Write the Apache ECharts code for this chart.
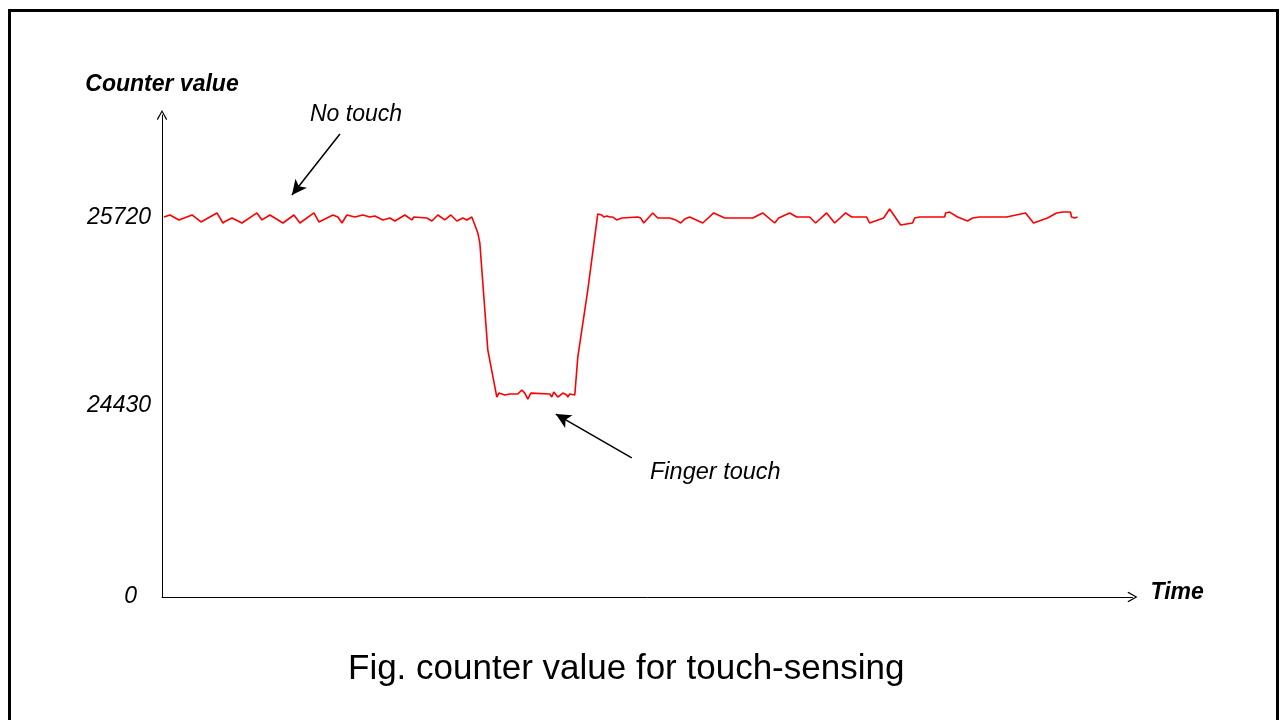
<!DOCTYPE html>
<html>
<head>
<meta charset="utf-8">
<script src="https://cdn.jsdelivr.net/npm/echarts@6/dist/echarts.min.js"></script>
<style>
html,body{margin:0;padding:0;background:#fff;}
#chart{width:1281px;height:720px;}
</style>
</head>
<body>
<div id="chart"></div>
<script>
// Time samples (arbitrary units)
var time = [
  2,8,17,30,39,55,61,64,70,80,
  95,100,108,121,132,138,152,157,171,176,
  180,185,193,201,208,213,221,228,233,243,
  250,252,265,270,276,283,289,295,301,305,
  310,312,316,318,326,335,337,343,348,356,
  360,363,366,369,388,390,392,396,401,405,
  406,408,413,416,426,436,440,442,445,448,
  451,455,460,476,479,482,491,496,508,514,
  519,523,528,541,552,563,591,601,613,617,
  628,635,648,654,665,673,684,690,705,708,
  722,728,739,751,753,758,783,784,788,796,
  806,811,818,825,845,864,872,886,895,901,
  909,910,913,916
];
// Counter values
var counter = [
  25713,25727,25693,25727,25679,25741,25672,25686,25706,25672,
  25741,25693,25727,25672,25727,25672,25741,25679,25727,25713,
  25672,25727,25713,25727,25713,25720,25693,25706,25686,25727,
  25693,25713,25706,25686,25727,25693,25727,25686,25706,25693,
  25713,25706,25603,25535,24800,24478,24505,24492,24499,24499,
  24526,24505,24464,24505,24499,24478,24512,24478,24505,24492,
  24478,24499,24492,24752,25212,25734,25727,25713,25720,25713,
  25713,25693,25706,25713,25706,25672,25741,25706,25706,25693,
  25672,25699,25713,25672,25741,25706,25706,25741,25672,25706,
  25741,25713,25713,25672,25741,25672,25741,25713,25713,25672,
  25706,25768,25658,25672,25706,25713,25713,25741,25747,25713,
  25686,25706,25713,25713,25713,25741,25672,25706,25741,25747,
  25747,25713,25706,25713
];
// Axis ticks shown (bottom of the broken axis is labelled "0")
var yBottom = 23106;
var yTop = 26413;
var yTicks = [yBottom, 24430, 25720];
var yTickLabels = ['0', '24430', '25720'];
var xMax = 971;

// Annotation arrows: start [t, v], end [t, v]
var noTouchArrow = [[178, 26283], [130, 25864]];
var fingerArrow = [[470, 24060], [394, 24361]];

var FONT = "'Liberation Sans', Arial, sans-serif";
var chevron = 'path://M0,88 L50,0 L100,88 L90,96 L50,22 L10,96 Z';

var seriesData = time.map(function (t, i) { return [t, counter[i]]; });

var chart = echarts.init(document.getElementById('chart'), null, {renderer: 'canvas'});
chart.setOption({
  animation: false,
  backgroundColor: '#ffffff',
  grid: {left: 162, top: 115, width: 970.5, height: 482, containLabel: false},
  xAxis: {
    type: 'value', min: 0, max: xMax,
    name: '{t|Time}', nameLocation: 'end', nameGap: 18,
    nameTextStyle: {
      fontFamily: FONT, fontSize: 23, fontStyle: 'italic', fontWeight: 'bold', color: '#000',
      rich: {t: {fontFamily: FONT, fontSize: 23, fontStyle: 'italic', fontWeight: 'bold', color: '#000', padding: [0, 0, 8, 0]}}
    },
    axisLine: {show: true, lineStyle: {color: '#000', width: 1}, symbol: ['none', chevron], symbolSize: [11, 10]},
    axisTick: {show: false}, axisLabel: {show: false}, splitLine: {show: false}
  },
  yAxis: {
    type: 'value', min: yBottom, max: yTop,
    name: 'Counter value', nameLocation: 'end', nameGap: 19,
    nameTextStyle: {fontFamily: FONT, fontSize: 23, fontStyle: 'italic', fontWeight: 'bold', color: '#000'},
    axisLine: {show: true, lineStyle: {color: '#000', width: 1}, symbol: ['none', chevron], symbolSize: [11, 10]},
    axisTick: {show: false},
    splitLine: {show: false},
    axisLabel: {
      show: true, customValues: yTicks, margin: 11,
      fontFamily: FONT, fontSize: 23, fontStyle: 'italic', color: '#000',
      formatter: function (v) {
        var i = yTicks.indexOf(v);
        var s = i >= 0 ? yTickLabels[i] : '';
        return v === yBottom ? '{z|' + s + '}' : '{n|' + s + '}';
      },
      rich: {
        z: {fontFamily: FONT, fontSize: 23, fontStyle: 'italic', color: '#000', padding: [0, 14, 0, 0]},
        n: {fontFamily: FONT, fontSize: 23, fontStyle: 'italic', color: '#000', padding: [4, 0, 0, 0]}
      }
    }
  },
  series: [{
    type: 'line',
    data: seriesData,
    showSymbol: false,
    symbol: 'none',
    lineStyle: {color: '#ff0000', width: 1.6},
    itemStyle: {color: '#ff0000'},
    silent: true,
    markLine: {
      silent: true,
      symbol: ['none', 'arrow'],
      symbolSize: [11, 15],
      label: {show: false},
      emphasis: {disabled: true},
      lineStyle: {color: '#000', width: 1.5, type: 'solid'},
      itemStyle: {color: '#000'},
      data: [
        [{coord: noTouchArrow[0]}, {coord: noTouchArrow[1]}],
        [{coord: fingerArrow[0]}, {coord: fingerArrow[1]}]
      ]
    }
  }],
  graphic: [
    {type: 'rect', silent: true, shape: {x: 9.5, y: 10.5, width: 1268, height: 760},
     style: {fill: 'none', stroke: '#000', lineWidth: 3}},
    {type: 'text', silent: true, left: 310, top: 103,
     style: {text: 'No touch', font: 'italic 23px ' + FONT, fill: '#000'}},
    {type: 'text', silent: true, left: 650, top: 461,
     style: {text: 'Finger touch', font: 'italic 23.5px ' + FONT, fill: '#000'}},
    {type: 'text', silent: true, left: 348, top: 652,
     style: {text: 'Fig. counter value for touch-sensing', font: '35px ' + FONT, fill: '#000'}}
  ]
});
</script>
</body>
</html>
